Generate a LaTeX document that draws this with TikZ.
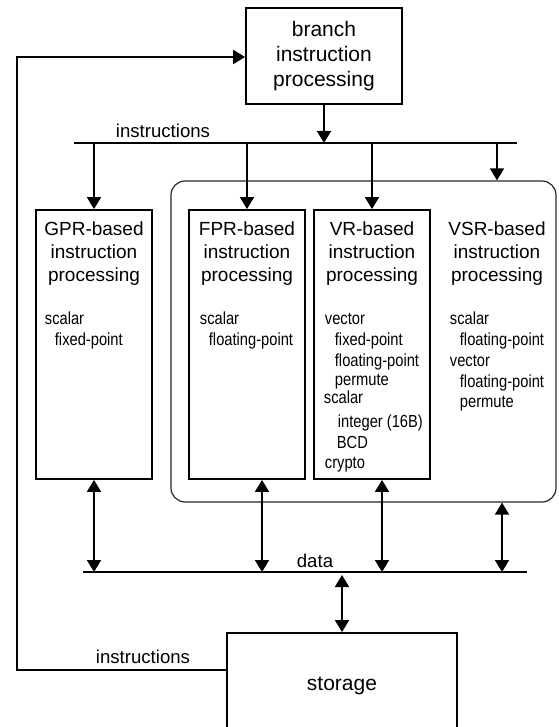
\documentclass[tikz,border=0pt]{standalone}
\usepackage{fontspec}
\setmainfont{Liberation Sans}
\newfontfamily\narrowfont[FakeStretch=0.84]{Liberation Sans}
\usetikzlibrary{arrows.meta}

\begin{document}
\begin{tikzpicture}[x=1pt,y=-1pt,line width=1.8pt,
  box/.style={draw,rectangle,inner sep=0pt},
  title/.style={align=center,inner sep=0pt,anchor=north,font=\fontsize{19}{23}\selectfont},
  item/.style={inner sep=0pt,anchor=base west,font=\narrowfont\fontsize{17.5}{21}\selectfont},
  lbl/.style={inner sep=0pt,anchor=base,font=\fontsize{18.6}{22}\selectfont},
  arr/.style={-{Triangle[width=14pt,length=12pt]}},
  dbl/.style={{Triangle[width=14pt,length=12pt]}-{Triangle[width=14pt,length=12pt]}}]
\useasboundingbox (0,0) rectangle (558,727);
\clip (0,0) rectangle (558,727);
% boxes
\node[box,minimum width=156,minimum height=96,align=center,font=\fontsize{21}{25}\selectfont] (branch) at (324,56) {branch\\instruction\\processing};
\node[draw=black!85,line width=1.2pt,rounded corners=14pt,minimum width=385,minimum height=321,inner sep=0pt] (outer) at (363.5,341.5) {};
\node[box,minimum width=116,minimum height=269] (gpr) at (94,344.5) {};
\node[box,minimum width=116,minimum height=269] (fpr) at (247,344.5) {};
\node[box,minimum width=116,minimum height=269] (vr) at (372,344.5) {};
\node[box,minimum width=230,minimum height=106,font=\fontsize{21}{25}\selectfont] (storage) at (342,686) {storage};
% titles
\node[title] (gprt) at (94,221) {GPR-based\\instruction\\processing};
\node[title] (fprt) at (247,221) {FPR-based\\instruction\\processing};
\node[title] (vrt) at (372,221) {VR-based\\instruction\\processing};
\node[title] (vsrt) at (497,221) {VSR-based\\instruction\\processing};
% GPR
\node[item] (g1) at (44,324) {scalar};
\node[item] (g2) at (54,345) {fixed-point};
% FPR
\node[item] (f1) at (199,324) {scalar};
\node[item] (f2) at (208,345) {floating-point};
% VR
\node[item] (v1) at (324,324) {vector};
\node[item] (v2) at (334,345) {fixed-point};
\node[item] (v3) at (334,366) {floating-point};
\node[item] (v4) at (334,385) {permute};
\node[item] (v5) at (323,403) {scalar};
\node[item] (v6) at (337,427) {integer (16B)};
\node[item] (v7) at (336,448) {BCD};
\node[item] (v8) at (324,468) {crypto};
% VSR
\node[item] (s1) at (449,324) {scalar};
\node[item] (s2) at (459,345) {floating-point};
\node[item] (s3) at (449,366) {vector};
\node[item] (s4) at (459,387) {floating-point};
\node[item] (s5) at (459,407) {permute};
% buses
\coordinate (ibusL) at (74,143);
\coordinate (ibusR) at (517,143);
\coordinate (dbusL) at (83,572);
\coordinate (dbusR) at (527,572);
\draw (ibusL) -- (ibusR);
\draw (dbusL) -- (dbusR);
\node[lbl] (ilbl) at (163,138) {instructions};
\node[lbl] (dlbl) at (315,567) {data};
\node[lbl] (slbl) at (143,663) {instructions};
% instruction arrows
\draw[arr] (branch.south) -- (branch.south |- ibusL);
\draw[arr] (gpr.north |- ibusL) -- (gpr.north);
\draw[arr] (fpr.north |- ibusL) -- (fpr.north);
\draw[arr] (vr.north |- ibusL) -- (vr.north);
\draw[arr] (vsrt.north |- ibusL) -- (vsrt.north |- outer.north);
% data arrows
\coordinate (d1) at (94,572);
\coordinate (d2) at (262,572);
\coordinate (d3) at (382,572);
\coordinate (d4) at (502,572);
\coordinate (d5) at (343,575);
\draw[dbl] (d1 |- gpr.south) -- (d1);
\draw[dbl] (d2 |- fpr.south) -- (d2);
\draw[dbl] (d3 |- vr.south) -- (d3);
\draw[dbl] (d4 |- outer.south) -- (d4);
\draw[dbl] (storage.north |- d5) -- (storage.north);
% loop back to branch
\coordinate (loopB) at (17,670);
\coordinate (loopT) at (17,57);
\draw[arr] (storage.west |- loopB) -- (loopB) -- (loopT) -- (branch.west |- loopT);
\end{tikzpicture}
\end{document}
